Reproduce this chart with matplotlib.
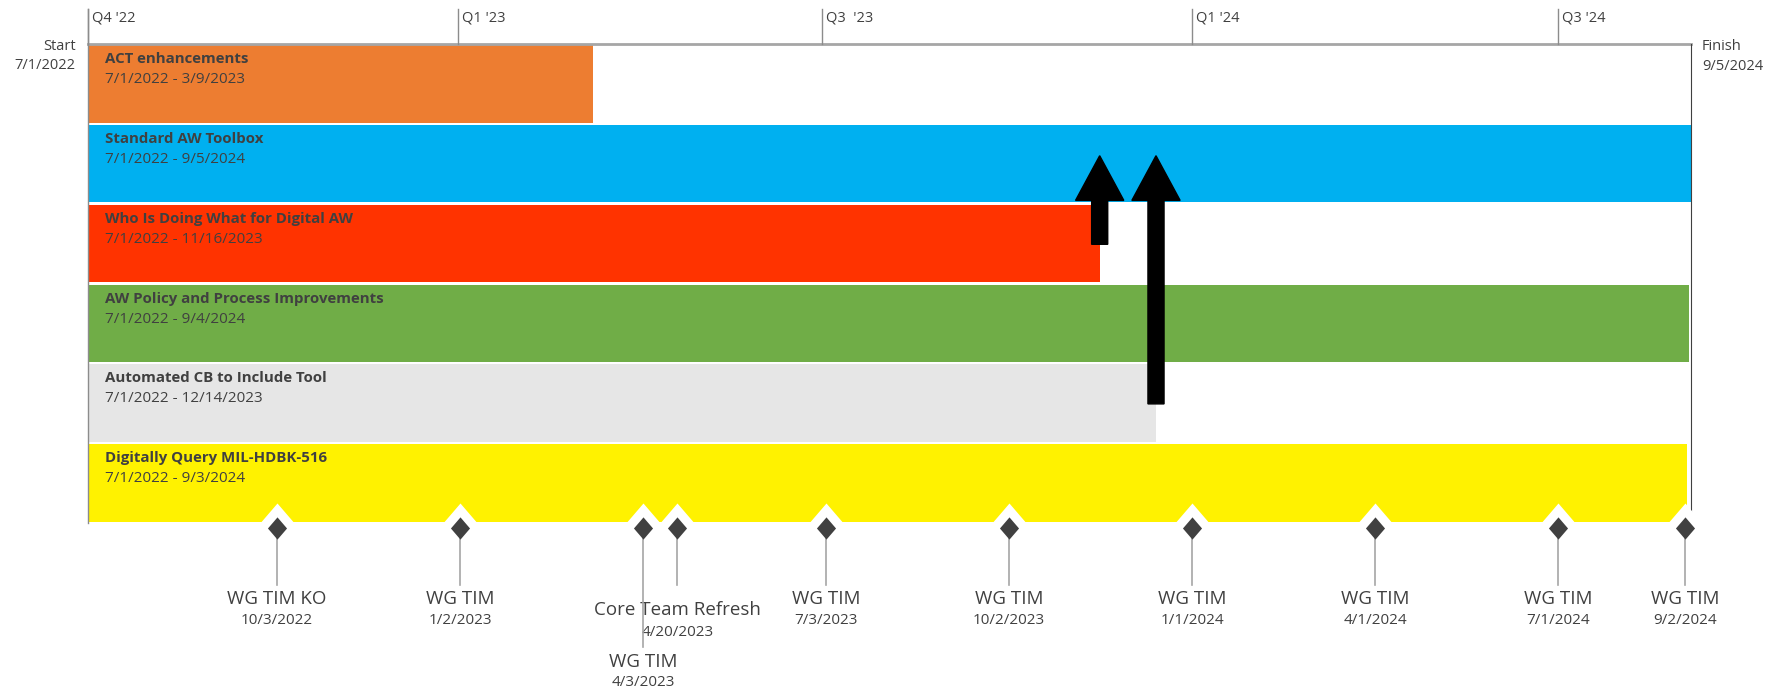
import datetime as dt

import matplotlib
matplotlib.use("Agg")
import matplotlib.pyplot as plt
import matplotlib.dates as mdates

plt.rcParams["font.family"] = ["Open Sans", "DejaVu Sans"]

# ---- data ---------------------------------------------------------------
tasks = ["ACT enhancements", "Standard AW Toolbox",
         "Who Is Doing What for Digital AW",
         "AW Policy and Process Improvements",
         "Automated CB to Include Tool", "Digitally Query MIL-HDBK-516"]
task_start = ["7/1/2022"] * 6
task_end = ["3/9/2023", "9/5/2024", "11/16/2023", "9/4/2024", "12/14/2023",
            "9/3/2024"]
task_colors = ["#ED7D31", "#00B0F0", "#FF3300", "#70AD47", "#E6E6E6",
               "#FFF200"]

milestones = ["WG TIM KO", "WG TIM", "WG TIM", "Core Team Refresh", "WG TIM",
              "WG TIM", "WG TIM", "WG TIM", "WG TIM", "WG TIM"]
milestone_dates = ["10/3/2022", "1/2/2023", "4/3/2023", "4/20/2023",
                   "7/3/2023", "10/2/2023", "1/1/2024", "4/1/2024",
                   "7/1/2024", "9/2/2024"]
milestone_level = [0, 0, 2, 1, 0, 0, 0, 0, 0, 0]

quarter_labels = ["Q4 '22", "Q1 '23", "Q3  '23", "Q1 '24", "Q3 '24"]
quarter_dates = ["7/1/2022", "1/1/2023", "7/1/2023", "1/1/2024", "7/1/2024"]

timeline_start = "7/1/2022"
timeline_finish = "9/5/2024"

# arrows: date, from row, to row
arrow_dates = ["11/16/2023", "12/14/2023"]
arrow_from = [2.51, 4.51]
arrow_to = [1.40, 1.40]


def d(s):
    return mdates.date2num(dt.datetime.strptime(s, "%m/%d/%Y"))


TXT = "#404040"
GRID = "#8C8C8C"

fig = plt.figure(figsize=(17.83, 6.91), dpi=100)
W, H = 1783, 691
ax = fig.add_axes([88 / W, 0, (1691 - 88) / W, (H - 44) / H])
x0, x1 = d(timeline_start), d(timeline_finish)
ax.set_xlim(x0, x1)
ax.set_ylim((H - 44) / 79.8, 0)
ax.axis("off")

# task bars
for i, (name, s, e, c) in enumerate(zip(tasks, task_start, task_end,
                                        task_colors)):
    ax.barh(i + 0.5, d(e) - d(s), left=d(s), height=0.97, color=c, zorder=1)
    ax.annotate(name, (d(s), i + 0.24), xytext=(12, 0),
                textcoords="offset points", ha="left", va="baseline",
                fontsize=10.8, fontweight="bold", color=TXT, zorder=3)
    ax.annotate(f"{s} - {e}", (d(s), i + 0.49), xytext=(12, 0),
                textcoords="offset points", ha="left", va="baseline",
                fontsize=11, color=TXT, zorder=3)

# frame lines and quarter ticks
ax.plot([x0, x1], [0, 0], color="#A6A6A6", lw=2, clip_on=False, zorder=2)
ax.plot([x0, x0], [-0.44, 6.0], color=GRID, lw=1, clip_on=False, zorder=2)
ax.plot([x1, x1], [0, 5.88], color="#404040", lw=0.8, clip_on=False, zorder=2)
for lab, q in zip(quarter_labels, quarter_dates):
    ax.plot([d(q), d(q)], [-0.44, 0], color=GRID, lw=1, clip_on=False)
    ax.annotate(lab, (d(q), -0.33), xytext=(3, 0), textcoords="offset points",
                ha="left", va="center", fontsize=10.5, color=TXT,
                annotation_clip=False)

ax.annotate("Start", (x0, 0), xytext=(-9, -2), textcoords="offset points",
            ha="right", va="center", fontsize=10.5, color=TXT,
            annotation_clip=False)
ax.annotate(timeline_start, (x0, 0), xytext=(-9, -15.5),
            textcoords="offset points", ha="right", va="center",
            fontsize=10.5, color=TXT, annotation_clip=False)
ax.annotate("Finish", (x1, 0), xytext=(8, -2), textcoords="offset points",
            ha="left", va="center", fontsize=10.5, color=TXT,
            annotation_clip=False)
ax.annotate(timeline_finish, (x1, 0), xytext=(8, -16),
            textcoords="offset points", ha="left", va="center",
            fontsize=10.5, color=TXT, annotation_clip=False)

# arrows
for a, y_from, y_to in zip(arrow_dates, arrow_from, arrow_to):
    ax.arrow(d(a), y_from, 0, y_to - y_from, width=8, head_width=24,
             head_length=0.56, length_includes_head=True, color="black",
             zorder=5)

# milestones
diamond = [(0, 1), (0.86, 0), (0, -1), (-0.86, 0), (0, 1)]
stem_end = [6.78, 6.78, 7.56]
name_y = [6.95, 7.09, 7.74]
date_y = [7.22, 7.37, 8.0]
for name, md, lvl in zip(milestones, milestone_dates, milestone_level):
    x = d(md)
    ax.plot(x, 6.06, marker=diamond, ms=36, color="white", mew=0,
            zorder=3, clip_on=False)
    ax.plot([x, x], [6.06, stem_end[lvl]], color="#A6A6A6", lw=1.2,
            zorder=3.5)
    ax.plot(x, 6.06, marker=diamond, ms=16, color="#404040", mew=0,
            zorder=4, clip_on=False)
    ax.text(x, name_y[lvl], name, ha="center", va="center", fontsize=13.5,
            color=TXT)
    ax.text(x, date_y[lvl], md, ha="center", va="center",
            fontsize=11, color=TXT)

fig.savefig("out.png", dpi=100, facecolor="white")
